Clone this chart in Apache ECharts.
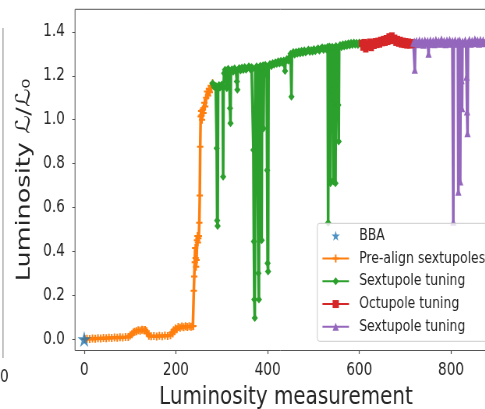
<!DOCTYPE html>
<html><head><meta charset="utf-8">
<script src="https://cdn.jsdelivr.net/npm/echarts@6/dist/echarts.min.js"></script>
<style>
html,body{margin:0;padding:0;background:#fff;overflow:hidden;width:485px;height:409px;}
#chart{position:absolute;left:0;top:0;width:622px;height:409px;transform:scaleX(0.78);transform-origin:0 0;}
</style></head><body><div id="chart"></div>
<script>
// ---- data ----
const xTicks = [0, 200, 400, 600, 800];
const yTicks = [0, 0.2, 0.4, 0.6, 0.8, 1.0, 1.2, 1.4];
const seriesNames = ['BBA', 'Pre-align sextupoles', 'Sextupole tuning', 'Octupole tuning', 'Sextupole tuning '];

const bba = [[0, 0.0]];

const preAlign = [
[1,0.000],[6,0.002],[12,0.000],[18,0.003],[24,0.002],[30,0.004],[36,0.003],[42,0.005],[48,0.004],[54,0.006],[60,0.005],[66,0.007],[72,0.006],[78,0.008],[84,0.007],[90,0.009],[96,0.010],[100,0.016],[104,0.022],[107,0.030],[110,0.034],[114,0.036],[118,0.040],[122,0.038],[126,0.042],[130,0.040],[133,0.041],[136,0.036],[138,0.026],[141,0.015],[146,0.013],[152,0.014],[158,0.012],[164,0.015],[170,0.013],[176,0.016],[182,0.014],[188,0.018],[191,0.030],[193,0.026],[195,0.040],[197,0.036],[199,0.048],[202,0.045],[205,0.055],[209,0.052],[213,0.057],[217,0.054],[221,0.058],[225,0.055],[229,0.059],[233,0.056],[237,0.058],
[238,0.060],[239,0.220],[240,0.285],[241,0.350],[242,0.415],[243,0.370],[244,0.330],[245,0.360],[246,0.450],[247,0.470],[248,0.440],[249,0.460],[250,0.470],[251,0.530],[252,0.654],[253,0.877],[254,1.014],[255,1.040],[256,1.020],[257,1.000],[258,1.045],[260,1.030],[262,1.077],[264,1.060],[266,1.100],[268,1.128],[270,1.110],[272,1.140],[274,1.125],[276,1.155],[278,1.145],[280,1.166]
];

const sextTuning1 = [
[280,1.166],[281,1.160],[283,1.150],[285,1.156],[287,1.146],[288,1.152],[289,0.870],[290,0.540],[291,0.515],[292,1.150],[294,1.158],[296,1.145],[298,1.153],[300,1.160],[302,1.150],[303,0.740],[304,1.152],[305,1.212],[307,1.228],[309,1.218],[311,1.143],[312,1.226],[314,1.232],[316,1.220],[318,1.052],[319,0.984],[320,1.222],[322,1.230],[325,1.218],[328,1.234],[331,1.222],[333,1.174],[334,1.136],[335,1.226],[338,1.236],[341,1.224],[344,1.238],[347,1.226],[350,1.240],[353,1.228],[356,1.236],[359,1.244],[362,1.230],[365,1.240],[368,1.234],[369,0.862],[370,0.445],[371,0.180],[372,0.096],[373,1.232],[376,1.244],[379,1.236],[380,0.300],[381,0.180],[382,1.238],[384,1.246],[386,1.236],[387,0.450],[388,1.240],[390,1.248],[391,0.960],[392,1.242],[395,1.250],[397,1.240],[398,1.204],[399,0.770],[400,0.346],[401,0.308],[402,1.246],[405,1.254],[408,1.244],[411,1.258],[414,1.250],[417,1.262],[420,1.254],[423,1.266],[426,1.256],[429,1.268],[432,1.258],[435,1.270],[437,1.262],[438,1.222],[439,1.266],[442,1.276],[445,1.268],[448,1.284],[450,1.300],[451,1.292],[452,1.105],[453,1.298],[456,1.308],[459,1.296],[462,1.310],[465,1.300],[468,1.312],[471,1.302],[474,1.314],[477,1.304],[480,1.316],[483,1.306],[486,1.312],[489,1.320],[492,1.308],[495,1.318],[498,1.310],[501,1.322],[504,1.312],[507,1.320],[510,1.326],[513,1.314],[516,1.324],[519,1.330],[522,1.318],[525,1.328],[528,1.320],[531,1.332],[532,0.530],[533,1.324],[535,1.334],[536,0.726],[537,0.710],[538,1.326],[540,1.136],[541,1.332],[543,1.075],[544,0.718],[545,1.328],[547,1.143],[548,0.710],[549,1.336],[551,1.326],[554,1.067],[555,0.900],[556,1.334],[558,1.340],[561,1.330],[564,1.344],[567,1.334],[570,1.346],[573,1.336],[576,1.348],[579,1.338],[582,1.350],[585,1.340],[588,1.352],[591,1.342],[594,1.350],[597,1.340],[600,1.352],[603,1.344],[605,1.348]
];

const octTuning = [
[605,1.348],[608,1.330],[611,1.352],[614,1.322],[617,1.346],[620,1.332],[623,1.354],[626,1.328],[629,1.350],[632,1.338],[635,1.356],[638,1.342],[641,1.358],[644,1.344],[647,1.362],[650,1.350],[653,1.366],[656,1.352],[659,1.370],[662,1.356],[665,1.378],[668,1.360],[671,1.382],[674,1.362],[677,1.372],[680,1.352],[683,1.366],[686,1.348],[689,1.362],[692,1.344],[695,1.358],[698,1.342],[701,1.356],[704,1.340],[707,1.354],[710,1.340],[713,1.352],[716,1.342],[718,1.350]
];

const sextTuning2 = [
[718,1.350],[720,1.356],[721,1.227],[722,1.348],[725,1.360],[728,1.344],[731,1.362],[734,1.346],[737,1.358],[740,1.342],[743,1.362],[746,1.348],[749,1.360],[751,1.300],[752,1.346],[755,1.362],[758,1.346],[761,1.360],[764,1.344],[767,1.364],[770,1.348],[773,1.360],[776,1.346],[779,1.366],[782,1.348],[785,1.360],[788,1.344],[791,1.362],[794,1.348],[797,1.364],[800,1.346],[803,1.360],[805,0.535],[806,1.348],[809,1.362],[812,1.346],[815,1.358],[816,0.672],[817,1.348],[819,1.362],[820,0.718],[821,1.350],[823,1.180],[824,1.052],[825,1.356],[828,1.346],[831,1.362],[833,1.350],[834,1.196],[835,1.037],[836,0.938],[837,1.352],[840,1.364],[843,1.346],[846,1.360],[849,1.348],[852,1.366],[855,1.350],[858,1.362],[861,1.346],[864,1.364],[867,1.350],[870,1.362],[873,1.348],[876,1.360],[879,1.350],[882,1.362],[885,1.352]
];

// ---- rendering ----
const FONT = 'DejaVu Sans';
const TXT = '#262626';
const AX = '#555555';
const starPath = 'path://M100,0 L122.45,69.1 L195.1,69.1 L136.3,111.8 L158.8,180.9 L100,138.2 L41.2,180.9 L63.7,111.8 L4.9,69.1 L77.55,69.1 Z';
const plusPath = 'path://M3,0H5V3H8V5H5V8H3V5H0V3H3Z';
const colors = ['#1f77b4', '#ff7f0e', '#2ca02c', '#d62728', '#9467bd'];

function lineSeries(name, data, color, symbol, size) {
  return {
    name: name, type: 'line', data: data, symbol: symbol, symbolSize: size, showSymbol: true,
    lineStyle: {width: 3.5, color: color}, itemStyle: {color: color},
    silent: true, emphasis: {disabled: true}, clip: true
  };
}

const chart = echarts.init(document.getElementById('chart'), null, {renderer: 'canvas', devicePixelRatio: 1});
chart.setOption({
  animation: false,
  backgroundColor: '#ffffff',
  grid: {left: 96.2, top: 9.3, width: 540.8, height: 341.2, show: true, borderColor: AX, borderWidth: 1,
         backgroundColor: 'transparent', containLabel: false, outerBoundsMode: 'none'},
  xAxis: {
    type: 'value', min: -20, max: 900,
    splitLine: {show: false}, axisLine: {show: false, onZero: false},
    axisTick: {show: true, inside: false, length: 3.5, lineStyle: {color: AX, width: 1.2}, customValues: xTicks},
    axisLabel: {customValues: xTicks, margin: 11, fontSize: 17.5, color: TXT, fontFamily: FONT},
    name: 'Luminosity measurement', nameLocation: 'middle', nameGap: 33,
    nameTextStyle: {fontSize: 25.5, color: TXT, fontFamily: FONT}
  },
  yAxis: {
    type: 'value', min: -0.052, max: 1.503,
    splitLine: {show: false}, axisLine: {show: false, onZero: false},
    axisTick: {show: true, inside: false, length: 3.5, lineStyle: {color: AX, width: 1}, customValues: yTicks},
    axisLabel: {customValues: yTicks, margin: 13, fontSize: 17.5, color: TXT, fontFamily: FONT,
      formatter: function (v) { return v.toFixed(1); }},
    name: 'Luminosity ℒ/ℒ₀', nameLocation: 'middle', nameGap: 47, nameRotate: 90,
    nameTextStyle: {fontSize: 25.5, color: TXT, fontFamily: FONT}
  },
  legend: {
    orient: 'vertical', left: 406.8, top: 223.3, padding: [4, 6, 6, 5.6],
    itemGap: 5.75, itemWidth: 34, itemHeight: 10,
    backgroundColor: 'rgba(255,255,255,0.8)', borderColor: '#cccccc', borderWidth: 1, borderRadius: 3,
    textStyle: {fontSize: 16, color: TXT, fontFamily: FONT, lineHeight: 17, padding: [0, 0, 0, 8]},
    data: seriesNames, selectedMode: false
  },
  graphic: [
    {type: 'line', shape: {x1: 3.85, y1: 28, x2: 3.85, y2: 358}, style: {stroke: '#999999', lineWidth: 1.3}, silent: true},
    {type: 'text', x: 0, y: 368, style: {text: '0', fontSize: 17.5, fontFamily: FONT, fill: TXT}, silent: true}
  ],
  series: [
    lineSeries(seriesNames[1], preAlign, colors[1], plusPath, 8),
    lineSeries(seriesNames[2], sextTuning1, colors[2], 'diamond', 8),
    lineSeries(seriesNames[3], octTuning, colors[3], 'rect', 7),
    lineSeries(seriesNames[4], sextTuning2, colors[4], 'triangle', 8),
    {name: seriesNames[0], type: 'scatter', data: bba, symbol: starPath, symbolSize: [17, 16],
     itemStyle: {color: colors[0]}, z: 5, silent: true, emphasis: {disabled: true}}
  ]
});
</script></body></html>
